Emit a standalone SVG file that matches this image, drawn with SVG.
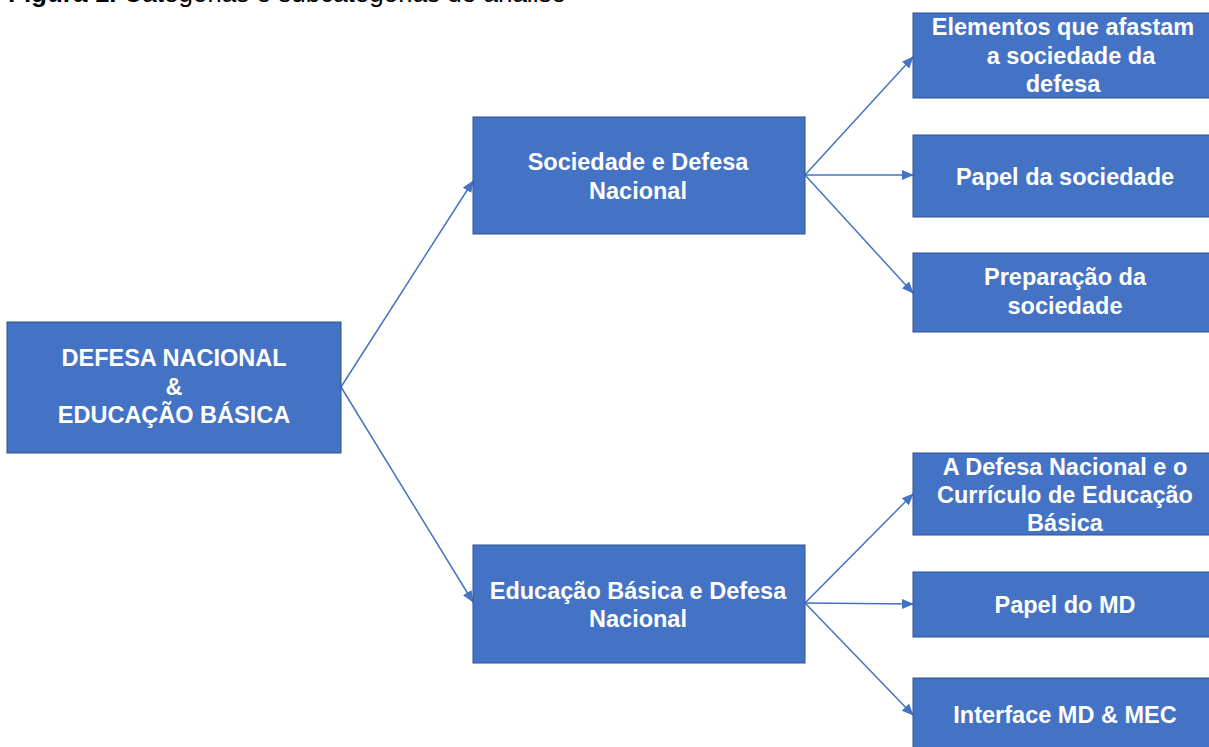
<svg xmlns="http://www.w3.org/2000/svg" width="1209" height="747" viewBox="0 0 1209 747">
<style>
.box{fill:#4472C4;stroke:#2F528F;stroke-width:1}
.t{font-family:"Liberation Sans",Arial,sans-serif;font-weight:bold;font-size:23.5px;fill:#FFFFFF;text-anchor:middle}
.cap{font-family:"Liberation Sans",Arial,sans-serif;font-size:26px;fill:#000000}
.c{stroke:#4472C4;stroke-width:1.5;fill:none;marker-end:url(#arr)}
</style>
<defs>
<marker id="arr" markerUnits="userSpaceOnUse" markerWidth="12" markerHeight="10" refX="11" refY="5" orient="auto">
<path d="M0,0 L12,5 L0,10 z" fill="#4472C4"/>
</marker>
</defs>
<rect width="1209" height="747" fill="#FFFFFF"/>
<text class="cap" x="8" y="1.5"><tspan font-weight="bold">Figura 1.</tspan> Categorias e subcategorias de análise</text>
<g id="connectors">
<line class="c" x1="341" y1="387" x2="473" y2="181"/>
<line class="c" x1="341" y1="387" x2="473" y2="602"/>
<line class="c" x1="805" y1="175" x2="913" y2="57"/>
<line class="c" x1="805" y1="175" x2="913" y2="175"/>
<line class="c" x1="805" y1="175" x2="913" y2="293"/>
<line class="c" x1="805" y1="603" x2="913" y2="494"/>
<line class="c" x1="805" y1="603" x2="913" y2="604"/>
<line class="c" x1="805" y1="603" x2="913" y2="715"/>
</g>
<g id="root">
<rect class="box" x="7" y="322" width="334" height="131"/>
<text class="t" x="174" y="366">DEFESA NACIONAL</text>
<text class="t" x="174" y="394.5">&amp;</text>
<text class="t" x="174" y="423">EDUCAÇÃO BÁSICA</text>
</g>
<g id="sociedade">
<rect class="box" x="473" y="117" width="332" height="117"/>
<text class="t" x="638" y="170">Sociedade e Defesa</text>
<text class="t" x="638" y="198.5">Nacional</text>
</g>
<g id="educacao">
<rect class="box" x="473" y="545" width="332" height="118"/>
<text class="t" x="638" y="599">Educação Básica e Defesa</text>
<text class="t" x="638" y="627">Nacional</text>
</g>
<g id="elementos">
<rect class="box" x="913" y="13" width="302" height="85"/>
<text class="t" x="1063" y="35">Elementos que afastam</text>
<text class="t" x="1071" y="63.5">a sociedade da</text>
<text class="t" x="1063" y="92">defesa</text>
</g>
<g id="papel-sociedade">
<rect class="box" x="913" y="135" width="302" height="82"/>
<text class="t" x="1065" y="185">Papel da sociedade</text>
</g>
<g id="preparacao">
<rect class="box" x="913" y="253" width="302" height="79"/>
<text class="t" x="1065" y="285">Preparação da</text>
<text class="t" x="1065" y="313.5">sociedade</text>
</g>
<g id="curriculo">
<rect class="box" x="913" y="453" width="302" height="82"/>
<text class="t" x="1065" y="475">A Defesa Nacional e o</text>
<text class="t" x="1065" y="503">Currículo de Educação</text>
<text class="t" x="1065" y="531">Básica</text>
</g>
<g id="papel-md">
<rect class="box" x="913" y="572" width="302" height="65"/>
<text class="t" x="1065" y="613">Papel do MD</text>
</g>
<g id="interface">
<rect class="box" x="913" y="678" width="302" height="80"/>
<text class="t" x="1065" y="723">Interface MD &amp; MEC</text>
</g>
</svg>
